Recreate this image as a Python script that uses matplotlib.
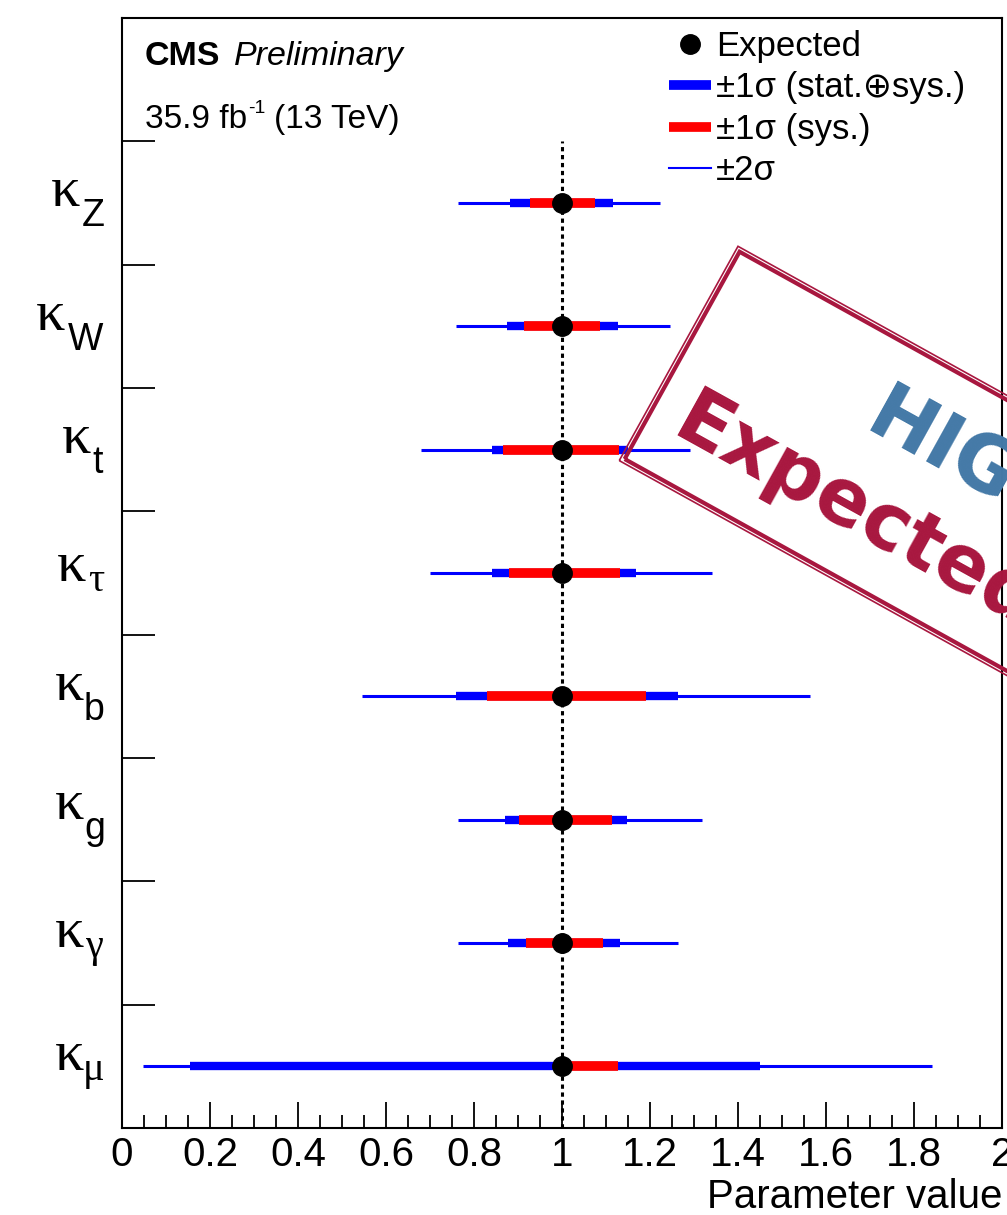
import matplotlib
matplotlib.use("Agg")
import matplotlib.pyplot as plt
import matplotlib.transforms as mtransforms
from matplotlib.lines import Line2D
from matplotlib.patches import Polygon
from matplotlib.textpath import TextPath
from matplotlib.font_manager import FontProperties
import numpy as np

# coupling modifiers, top to bottom
params = ["Z", "W", "t", "τ", "b", "g", "γ", "μ"]
best = [1.0, 1.0, 1.0, 1.0, 1.0, 1.0, 1.0, 1.0]

# +-2 sigma interval
lo2 = [0.764, 0.759, 0.680, 0.700, 0.545, 0.764, 0.764, 0.048]
hi2 = [1.223, 1.245, 1.291, 1.341, 1.564, 1.318, 1.264, 1.840]
# +-1 sigma (stat + sys)
lo1 = [0.882, 0.875, 0.841, 0.841, 0.759, 0.870, 0.877, 0.155]
hi1 = [1.116, 1.127, 1.150, 1.168, 1.264, 1.148, 1.132, 1.450]
# +-1 sigma (sys only)
lo_sys = [0.927, 0.914, 0.866, 0.880, 0.830, 0.902, 0.918, 1.000]
hi_sys = [1.075, 1.086, 1.130, 1.132, 1.191, 1.114, 1.093, 1.127]

leg_labels = ["Expected", "±1σ (stat.⊕sys.)", "±1σ (sys.)", "±2σ"]

W, H = 1007, 1215

def fx(px):
    return px / W

def fy(py):
    return 1 - py / H

plt.rcParams["font.family"] = ["Liberation Sans", "DejaVu Sans"]

fig = plt.figure(figsize=(W / 100, H / 100), dpi=100)
ax = fig.add_axes([fx(122), fy(1128), fx(1002) - fx(122), fy(18) - fy(1128)])
disp = mtransforms.IdentityTransform()
renderer = fig.canvas.get_renderer()

n = len(params)
ypos = np.arange(n)[::-1] + 0.5

blue = "#0000ff"
red = "#ff0000"

ax.vlines(1.0, 0, n, colors="black", linestyles=(0, (1.4, 1.2)), lw=2.2, zorder=1)
ax.hlines(ypos, lo2, hi2, colors=blue, lw=2.2, capstyle="butt", zorder=2)
ax.hlines(ypos, lo1, hi1, colors=blue, lw=6, capstyle="butt", zorder=3)
ax.hlines(ypos, lo_sys, hi_sys, colors=red, lw=7, capstyle="butt", zorder=4)
ax.plot(best, ypos, "o", color="black", ms=14, zorder=5)

ax.set_xlim(0, 2)
ax.set_ylim(0, n + 1)

ax.set_xticks(np.arange(0, 2.01, 0.2))
ax.set_xticklabels(["0", "0.2", "0.4", "0.6", "0.8", "1", "1.2", "1.4", "1.6", "1.8", "2"])
ax.set_xticks(np.arange(0, 2.001, 0.05), minor=True)
ax.tick_params(axis="x", which="major", direction="in", length=19, width=1.3, labelsize=29, pad=6)
ax.tick_params(axis="x", which="minor", direction="in", length=9.5, width=1.3)

ax.set_yticks(np.arange(0, n + 2))
ax.set_yticklabels([])
ax.tick_params(axis="y", which="major", direction="in", length=24, width=1.3)

for s in ax.spines.values():
    s.set_linewidth(1.5)

ax.set_xlabel("Parameter value", fontsize=29, loc="right", labelpad=3)

# row labels: serif kappa, sans latin / serif greek subscript, ink box centred on the row
serif = FontProperties(family="Liberation Serif")
sans = FontProperties(family="Liberation Sans")
k_size = 42
k_ext = TextPath((0, 0), "κ", size=k_size * 100 / 72, prop=serif).get_extents()
for p, y in zip(params, ypos):
    yc = ax.transData.transform((0, y))[1]
    greek = p in "τγμ"
    drop = 10 if greek else 20
    s_size = 29 if greek else 27
    s_prop = serif if greek else sans
    s_ext = TextPath((0, 0), p, size=s_size * 100 / 72, prop=s_prop).get_extents()
    ink_top = max(k_ext.y1, s_ext.y1 - drop)
    ink_bot = min(k_ext.y0, s_ext.y0 - drop)
    base = yc - (ink_top + ink_bot) / 2
    xs = 103 - s_ext.x1
    xk = xs + s_ext.x0 - 3 - k_ext.x1
    ax.text(xk, base, "κ", transform=disp, ha="left", va="baseline",
            fontsize=k_size, family="Liberation Serif")
    ax.text(xs, base - drop, p, transform=disp, ha="left", va="baseline",
            fontsize=s_size, fontproperties=s_prop)

handles = [
    Line2D([], [], ls="none", marker="o", color="black", ms=14),
    Line2D([], [], color=blue, lw=7, solid_capstyle="butt"),
    Line2D([], [], color=red, lw=7, solid_capstyle="butt"),
    Line2D([], [], color=blue, lw=1.5),
]
ax.legend(handles, leg_labels, loc="upper left", bbox_to_anchor=(fx(669), fy(30)),
          bbox_transform=fig.transFigure, frameon=False, borderpad=0, borderaxespad=0,
          handlelength=1.2, handletextpad=0.15, labelspacing=0.24,
          prop={"family": ["Liberation Sans", "DejaVu Sans"], "size": 25})

fig.text(fx(145), fy(65), "CMS", fontsize=24.5, fontweight="bold")
fig.text(fx(234), fy(65), "Preliminary", fontsize=24.5, fontstyle="italic")

# luminosity line, superscript placed by hand
t1 = fig.text(145, H - 128, "35.9 fb", fontsize=24, transform=disp)
x1 = t1.get_window_extent(renderer).x1
t2 = fig.text(x1 + 1, H - 113, "-1", fontsize=14, transform=disp)
x2 = t2.get_window_extent(renderer).x1
fig.text(x2 + 8, H - 128, "(13 TeV)", fontsize=24, transform=disp)

# rubber stamp
crimson = "#a8173f"
steel = "#4479a7"
ang = np.deg2rad(29)
u = np.array([np.cos(ang), np.sin(ang)])
v = np.array([np.sin(ang), -np.cos(ang)])
o = np.array([670.0, 435.0])

for off, lw in [(0.0, 3.0), (4.0, 1.2)]:
    pts = [o + a * u + b * v for a, b in [(-28 - off, -43 - off), (700, -43 - off),
                                          (700, 194 + off), (-28 - off, 194 + off)]]
    pts = [(fx(p[0]), fy(p[1])) for p in pts]
    fig.patches.append(Polygon(pts, closed=True, fill=False, edgecolor=crimson, lw=lw,
                               transform=fig.transFigure, figure=fig, zorder=10))

hig = o + 166 * u + 98 * v
fig.text(fx(hig[0]), fy(hig[1]), "HIG-17-031", rotation=-29, rotation_mode="anchor",
         ha="left", va="baseline", fontsize=56, fontweight="bold", family="DejaVu Sans",
         color=steel, zorder=11)
fig.text(fx(o[0]), fy(o[1]), "Expected", rotation=-29, rotation_mode="anchor",
         ha="left", va="baseline", fontsize=56, fontweight="bold", family="DejaVu Sans",
         color=crimson, zorder=11)

fig.savefig("out.png", dpi=100)
